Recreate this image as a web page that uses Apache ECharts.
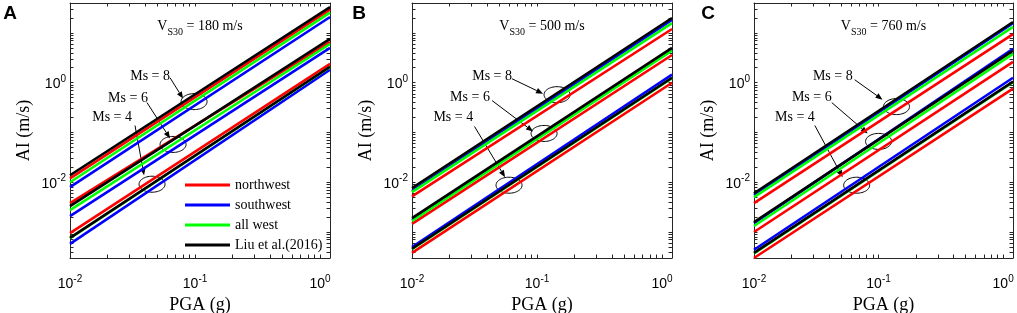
<!DOCTYPE html>
<html><head><meta charset="utf-8">
<script src="https://cdn.jsdelivr.net/npm/echarts@6/dist/echarts.min.js"></script>
<style>html,body{margin:0;padding:0;background:#fff}#c{width:1017px;height:313px}</style>
</head><body><div id="c"></div>
<script>
// ---------- DATA ----------
const pgaRange = [0.01, 1.2];          // x-axis limits (g)
const aiRange = [3e-4, 40];            // y-axis limits (m/s)
const xTickExps = [-2, -1, 0];         // labelled x ticks: 10^n
const yTickExps = [-2, 0];             // labelled y ticks: 10^n
const seriesNames = ['northwest', 'southwest', 'all west', 'Liu et al.(2016)'];
const seriesColors = ['#ff0000', '#0000ff', '#00ff00', '#000000'];
const magnitudes = [8, 6, 4];
const panelLetters = ['A', 'B', 'C'];
const vs30Values = [180, 500, 760];
const linePGA = [0.01, 1.2];           // PGA where each line's AI is read

// AI (m/s) at PGA = 0.01 g and 1.2 g for Ms = 8, 6, 4
const A_northwest = [[0.0120, 29.5], [0.0038, 6.6], [0.00095, 2.4]];
const A_southwest = [[0.00794, 20.9], [0.00209, 5.0], [0.000575, 1.82]];
const A_allwest   = [[0.0100, 25.7], [0.00275, 6.0], [0.00075, 2.07]];
const A_liu       = [[0.0138, 33.1], [0.0033, 7.6], [0.00076, 2.09]];

const B_northwest = [[0.0052, 12.0], [0.00145, 3.6], [0.00038, 1.0]];
const B_southwest = [[0.0066, 18.2], [0.00174, 4.6], [0.00050, 1.45]];
const B_allwest   = [[0.0063, 15.8], [0.00166, 4.4], [0.00045, 1.24]];
const B_liu       = [[0.0076, 20.0], [0.0019, 5.0], [0.00046, 1.26]];

const C_northwest = [[0.0038, 9.5], [0.0010, 2.63], [0.00030, 0.76]];
const C_southwest = [[0.0055, 15.8], [0.00151, 4.8], [0.00044, 1.26]];
const C_allwest   = [[0.0050, 13.2], [0.00132, 3.8], [0.00037, 1.02]];
const C_liu       = [[0.0060, 16.6], [0.00158, 4.4], [0.00038, 1.05]];

// annotations (PGA, AI): ellipse centre, label centre, arrow start, arrow end  (Ms = 8, 6, 4)
const A_notes = [
  [0.0982, 0.417, 0.0437, 1.32, 0.0631, 1.26, 0.0802, 0.479],
  [0.0667, 0.0575, 0.0291, 0.479, 0.0413, 0.398, 0.0631, 0.0759],
  [0.0453, 0.00912, 0.0217, 0.200, 0.0331, 0.138, 0.0391, 0.0138]];
const B_notes = [
  [0.1445, 0.575, 0.0437, 1.32, 0.0631, 1.20, 0.1117, 0.603],
  [0.1138, 0.0955, 0.0291, 0.501, 0.0437, 0.437, 0.0929, 0.1047],
  [0.0597, 0.00871, 0.0214, 0.200, 0.0316, 0.132, 0.0555, 0.0126]];
const C_notes = [
  [0.1393, 0.331, 0.0429, 1.32, 0.0643, 1.148, 0.1076, 0.457],
  [0.1000, 0.0661, 0.0291, 0.501, 0.0421, 0.398, 0.0817, 0.0955],
  [0.0667, 0.00871, 0.0213, 0.200, 0.0308, 0.138, 0.0515, 0.0126]];

const panels = [
  {models: [A_northwest, A_southwest, A_allwest, A_liu], notes: A_notes},
  {models: [B_northwest, B_southwest, B_allwest, B_liu], notes: B_notes},
  {models: [C_northwest, C_southwest, C_allwest, C_liu], notes: C_notes}];

// ---------- LAYOUT / STYLE ----------
const L10 = Math.log10;
const gridBoxes = [
  {left: 70, top: 3, width: 260, height: 255},
  {left: 412, top: 3, width: 260, height: 255},
  {left: 754, top: 3, width: 259, height: 255}];
const letterX = [10, 359, 708];
const AX = '#262626';
const SERIF = '"Liberation Serif", "Times New Roman", serif';
const SANS = '"Liberation Sans", Arial, sans-serif';
const xMin = L10(pgaRange[0]), xMax = L10(pgaRange[1]);
const yMin = L10(aiRange[0]), yMax = L10(aiRange[1]);

function logTicks(lo, hi) {
  const out = [];
  for (let e = Math.floor(lo); e <= Math.ceil(hi); e++)
    for (let k = 1; k <= 9; k++) {
      const v = e + L10(k);
      if (v >= lo - 1e-9 && v <= hi + 1e-9) out.push(v);
    }
  return out;
}
const xAllTicks = logTicks(xMin, xMax);
const yAllTicks = logTicks(yMin, yMax);
const supFmt = v => '{b|10}{s|' + Math.round(v) + '}';
const supRich = {
  b: {fontSize: 14, fontFamily: SANS, color: '#000', verticalAlign: 'bottom'},
  s: {fontSize: 10, fontFamily: SANS, color: '#000', verticalAlign: 'bottom', padding: [0, 0, 7, 0]}
};

const grid = [], xAxis = [], yAxis = [], series = [], graphic = [];

panels.forEach((p, g) => {
  grid.push(Object.assign({containLabel: false, outerBoundsMode: 'none'}, gridBoxes[g]));
  const baseX = {type: 'value', gridIndex: g, min: xMin, max: xMax,
    axisLine: {show: true, onZero: false, lineStyle: {color: AX, width: 1}},
    splitLine: {show: false},
    axisTick: {show: true, inside: true, length: 3.5, customValues: xAllTicks, lineStyle: {color: AX}}};
  xAxis.push(Object.assign({}, baseX, {position: 'bottom',
    name: 'PGA (g)', nameLocation: 'middle', nameGap: 38,
    nameTextStyle: {fontFamily: SERIF, fontSize: 18, color: '#000'},
    axisLabel: {show: true, customValues: xTickExps, formatter: supFmt, rich: supRich, margin: 16}}));
  xAxis.push(Object.assign({}, baseX, {position: 'top', axisLabel: {show: false}}));
  const baseY = {type: 'value', gridIndex: g, min: yMin, max: yMax,
    axisLine: {show: true, onZero: false, lineStyle: {color: AX, width: 1}},
    splitLine: {show: false},
    axisTick: {show: true, inside: true, length: 3.5, customValues: yAllTicks, lineStyle: {color: AX}}};
  yAxis.push(Object.assign({}, baseY, {position: 'left',
    name: 'AI (m/s)', nameLocation: 'middle', nameGap: 37,
    nameTextStyle: {fontFamily: SERIF, fontSize: 18, color: '#000'},
    axisLabel: {show: true, customValues: yTickExps, formatter: supFmt, rich: supRich, margin: 4}}));
  yAxis.push(Object.assign({}, baseY, {position: 'right', axisLabel: {show: false}}));

  p.models.forEach((model, m) => {
    model.forEach((pair, k) => {
      series.push({
        type: 'line', name: seriesNames[m], xAxisIndex: 2 * g, yAxisIndex: 2 * g,
        data: linePGA.map((x, i) => [L10(x), L10(pair[i])]),
        symbol: 'none', clip: true, silent: true,
        lineStyle: {color: seriesColors[m], width: 2.6},
        itemStyle: {color: seriesColors[m]}
      });
    });
  });

  series.push({
    type: 'custom', xAxisIndex: 2 * g, yAxisIndex: 2 * g, silent: true, clip: false,
    encode: {x: [0, 2, 4, 6], y: [1, 3, 5, 7]},
    data: p.notes.map(r => r.map(v => L10(v))),
    renderItem: (params, api) => {
      const e = api.coord([api.value(0), api.value(1)]);
      const l = api.coord([api.value(2), api.value(3)]);
      const a0 = api.coord([api.value(4), api.value(5)]);
      const a1 = api.coord([api.value(6), api.value(7)]);
      const RX = 13, RY = 8;
      const pts = [];
      for (let i = 0; i < 60; i++) {
        const t = i / 60 * 2 * Math.PI;
        pts.push([e[0] + RX * Math.cos(t), e[1] + RY * Math.sin(t)]);
      }
      const ang = Math.atan2(a1[1] - a0[1], a1[0] - a0[0]);
      const HL = 7, HW = 2.8;
      const bx = a1[0] - HL * Math.cos(ang), by = a1[1] - HL * Math.sin(ang);
      const head = [[a1[0], a1[1]],
        [bx + HW * Math.sin(ang), by - HW * Math.cos(ang)],
        [bx - HW * Math.sin(ang), by + HW * Math.cos(ang)]];
      return {type: 'group', children: [
        {type: 'polygon', shape: {points: pts}, style: {fill: 'none', stroke: '#000', lineWidth: 1}},
        {type: 'line', shape: {x1: a0[0], y1: a0[1], x2: bx, y2: by}, style: {stroke: '#000', lineWidth: 1}},
        {type: 'polygon', shape: {points: head}, style: {fill: '#000'}},
        {type: 'text', x: l[0], y: l[1], style: {text: 'Ms = ' + magnitudes[params.dataIndex],
          align: 'center', verticalAlign: 'middle', fontSize: 14, fontFamily: SERIF, fill: '#000'}}
      ]};
    }
  });

  const box = gridBoxes[g];
  graphic.push({type: 'text', x: box.left + box.width / 2, y: 28,
    style: {text: '{v|V}{s|S30}{v| = ' + vs30Values[g] + ' m/s}', align: 'center', verticalAlign: 'middle',
      rich: {v: {fontSize: 14, fontFamily: SERIF, fill: '#000', verticalAlign: 'bottom', padding: [0, 0, 4, 0]},
             s: {fontSize: 10, fontFamily: SERIF, fill: '#000', verticalAlign: 'bottom'}}}});
  graphic.push({type: 'text', x: letterX[g], y: 14,
    style: {text: panelLetters[g], align: 'center', verticalAlign: 'middle',
      fontSize: 19, fontWeight: 'bold', fontFamily: SANS, fill: '#000'}});
});

const chart = echarts.init(document.getElementById('c'), null, {renderer: 'canvas'});
chart.setOption({
  animation: false,
  backgroundColor: '#fff',
  grid, xAxis, yAxis, series, graphic,
  legend: {
    data: seriesNames.map(n => ({name: n, icon: 'rect'})),
    orient: 'vertical', left: 180, top: 173, itemWidth: 45, itemHeight: 3, itemGap: 6,
    selectedMode: false,
    textStyle: {fontFamily: SERIF, fontSize: 14, color: '#000'}
  }
});
</script></body></html>
